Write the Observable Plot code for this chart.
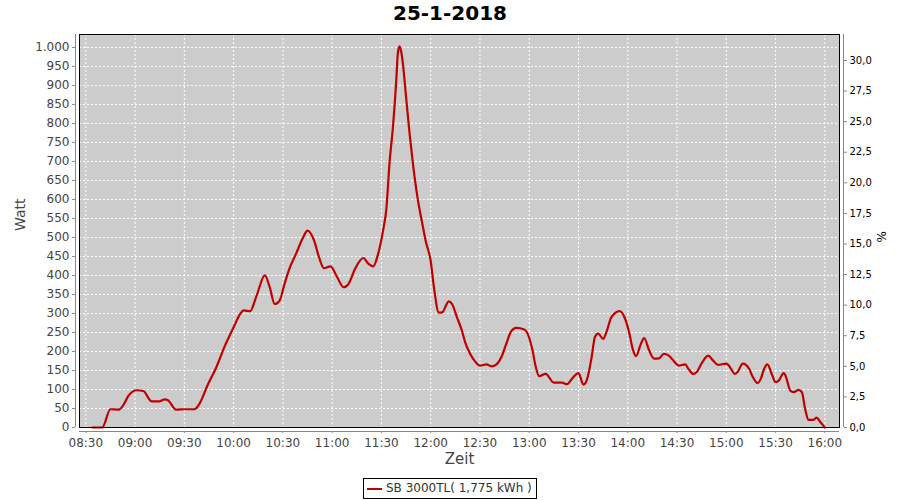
<!DOCTYPE html>
<html><head><meta charset="utf-8">
<script src="https://cdn.jsdelivr.net/npm/d3@7"></script>
<script src="https://cdn.jsdelivr.net/npm/@observablehq/plot@0.6"></script>
<style>
  html,body{margin:0;padding:0;background:#fff;}
  #wrap{position:relative;width:900px;height:500px;font-family:"DejaVu Sans",sans-serif;}
  #title{position:absolute;left:0;top:0;width:900px;text-align:center;font-weight:bold;font-size:20px;line-height:26px;color:#000;}
  #chart{position:absolute;left:0;top:33px;}
  #legend{position:absolute;left:363px;top:478px;width:172px;height:19px;border:1px solid #000;font-size:12px;line-height:19px;color:#333;white-space:nowrap;}
  #legend .sw{position:absolute;left:3px;top:9px;width:15px;height:2px;background:#c00000;}
  #legend .tx{position:absolute;left:22px;top:0;}
</style>
</head><body>
<div id="wrap">
  <div id="title">25-1-2018</div>
  <div id="chart"></div>
  <div id="legend"><span class="sw"></span><span class="tx">SB 3000TL( 1,775 kWh )</span></div>
</div>
<script>
// ---- data ----
const times = ["08:34","08:40","08:45","08:50","08:53","08:56","09:01","09:05","09:10","09:15","09:18","09:20","09:25","09:30","09:36","09:39","09:44","09:49","09:55","10:00","10:04","10:06","10:10","10:14","10:19","10:22","10:25","10:28","10:31","10:34","10:38","10:42","10:45","10:49","10:52","10:55","10:59","11:03","11:07","11:10","11:14","11:19","11:22","11:25","11:28","11:31","11:33","11:35","11:37","11:39","11:40","11:41","11:42","11:43","11:45","11:47","11:49","11:52","11:55","11:57","12:00","12:02","12:05","12:07","12:11","12:13","12:16","12:19","12:21","12:24","12:27","12:30","12:34","12:37","12:39","12:43","12:46","12:49","12:52","12:57","12:59","13:02","13:04","13:06","13:10","13:15","13:20","13:23","13:26","13:30","13:33","13:35","13:38","13:40","13:42","13:45","13:47","13:50","13:55","13:58","14:01","14:03","14:05","14:08","14:10","14:13","14:16","14:19","14:22","14:25","14:28","14:31","14:35","14:37","14:40","14:42","14:45","14:49","14:52","14:55","15:00","15:03","15:05","15:07","15:10","15:14","15:16","15:19","15:21","15:23","15:25","15:28","15:30","15:32","15:35","15:36","15:39","15:41","15:44","15:46","15:48","15:50","15:53","15:55","15:57","16:00"];
const watt = [0,0,48,47,60,84,98,96,69,69,74,72,47,48,48,61,110,154,218,264,299,308,306,347,400,369,325,334,378,418,457,497,518,492,448,419,424,396,369,378,418,446,431,424,457,518,575,700,790,910,985,1003,990,960,870,780,701,604,534,490,438,368,302,303,332,325,290,255,224,194,174,163,166,161,163,185,220,253,262,258,247,203,159,135,141,118,118,114,128,143,113,124,185,238,247,233,251,290,306,290,247,207,188,220,235,203,181,182,194,189,175,163,166,154,141,146,169,189,176,165,168,154,141,147,168,154,134,117,128,154,166,137,119,124,143,137,97,93,99,93,49,20,20,26,16,0];
const xTickLabels = ["08:30","09:00","09:30","10:00","10:30","11:00","11:30","12:00","12:30","13:00","13:30","14:00","14:30","15:00","15:30","16:00"];
const wattTicks = [0,50,100,150,200,250,300,350,400,450,500,550,600,650,700,750,800,850,900,950,1000];
const pctTicks = [0,2.5,5,7.5,10,12.5,15,17.5,20,22.5,25,27.5,30];
const seriesName = "SB 3000TL( 1,775 kWh )";

// ---- helpers ----
const toMin = s => { const [h, m] = s.split(":").map(Number); return h * 60 + m; };
const pad = n => String(n).padStart(2, "0");
const fmtTime = m => pad(Math.floor(m / 60)) + ":" + pad(m % 60);
const de = d3.formatLocale({decimal: ",", thousands: ".", grouping: [3], currency: ["", "€"]});
const fmtW = de.format(",");
const fmtP = de.format(".1f");
const pctToW = 32.19;

const data = times.map((t, i) => ({t: toMin(t), w: watt[i]}));
const xTicks = xTickLabels.map(toMin);
const xMin = 506.15, xMax = 968.93;
const yMax = 1034;

const chart = Plot.plot({
  width: 900, height: 437,
  marginTop: 1, marginBottom: 43, marginLeft: 79, marginRight: 61,
  style: {fontFamily: "DejaVu Sans", fontSize: "12px", background: "white"},
  x: {type: "linear", domain: [xMin, xMax]},
  y: {domain: [0, yMax]},
  marks: [
    Plot.frame({fill: "#cccccc", stroke: null}),
    Plot.gridY(wattTicks.slice(1), {stroke: "white", strokeOpacity: 1, strokeDasharray: "2,2"}),
    Plot.gridX(xTicks, {stroke: "white", strokeOpacity: 1, strokeDasharray: "2,2"}),
    Plot.line(data, {x: "t", y: "w", stroke: "#c00000", strokeWidth: 2.2, curve: "monotone-x"}),
    Plot.frame({stroke: "black"}),
    Plot.ruleX([xMin], {dx: -4, stroke: "#888"}),
    Plot.ruleX([xMax], {dx: 4, stroke: "#888"}),
    Plot.ruleY([0], {dy: 4, stroke: "#888"}),
    Plot.axisY(wattTicks, {anchor: "left", dx: -4, tickSize: 3, tickPadding: 3, tickFormat: fmtW, stroke: "#888", fill: "#444", fontSize: 12, label: null}),
    Plot.axisY(pctTicks.map(p => p * pctToW), {anchor: "right", dx: 4, tickSize: 3, tickPadding: 3, tickFormat: d => fmtP(d / pctToW), stroke: "#888", fill: "#000", fontSize: 10, label: null}),
    Plot.axisX(xTicks, {anchor: "bottom", dy: 4, tickSize: 2, tickPadding: 5, tickFormat: fmtTime, stroke: "#888", fill: "#444", fontSize: 12, label: null}),
    Plot.text(["Watt"], {frameAnchor: "left", dx: -59, rotate: -90, text: d => d, fontSize: 14, fill: "#444"}),
    Plot.text(["%"], {frameAnchor: "right", dx: 43, rotate: -90, text: d => d, fontSize: 12, fill: "#000"}),
    Plot.text(["Zeit"], {frameAnchor: "bottom", dy: 36, text: d => d, fontSize: 15, fill: "#444"})
  ]
});
document.getElementById("chart").appendChild(chart);
document.querySelector("#legend .tx").textContent = seriesName;
</script>
</body></html>
